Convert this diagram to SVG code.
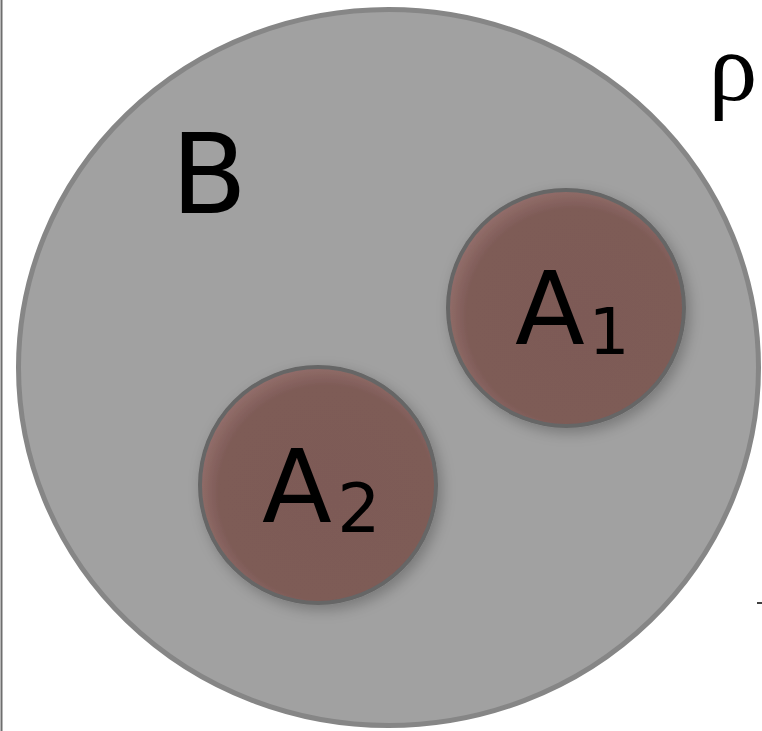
<svg xmlns="http://www.w3.org/2000/svg" width="762" height="731" viewBox="0 0 762 731">
  <style>
    .lbl { font-family: "Comic Sans MS", "DejaVu Sans", sans-serif; fill: #000; }
    .inner { stroke: #666666; stroke-width: 4; fill: url(#innerFill); filter: url(#shadow); }
  </style>
  <defs>
    <radialGradient id="innerFill" cx="0.53" cy="0.53" r="0.53" fx="0.56" fy="0.56">
      <stop offset="0" stop-color="#7d5a56"/>
      <stop offset="0.86" stop-color="#7e5b57"/>
      <stop offset="1" stop-color="#916d69"/>
    </radialGradient>
    <filter id="shadow" x="-20%" y="-20%" width="150%" height="150%">
      <feGaussianBlur in="SourceAlpha" stdDeviation="7"/>
      <feOffset dx="4" dy="5" result="b"/>
      <feFlood flood-color="#000" flood-opacity="0.25"/>
      <feComposite in2="b" operator="in"/>
      <feMerge>
        <feMergeNode/>
        <feMergeNode in="SourceGraphic"/>
      </feMerge>
    </filter>
  </defs>
  <rect width="762" height="731" fill="#ffffff"/>
  <line x1="1.5" y1="0" x2="1.5" y2="731" stroke="#6e6e6e" stroke-width="2"/>
  <g id="B">
    <ellipse cx="388.5" cy="367.5" rx="370" ry="358" fill="#a1a1a1" stroke="#868686" stroke-width="5"/>
    <text class="lbl" x="209" y="213" font-size="111" text-anchor="middle">B</text>
  </g>
  <g id="A1">
    <circle class="inner" cx="566" cy="308" r="118"/>
    <text class="lbl" x="550" y="344" font-size="102" text-anchor="middle">A</text>
    <text class="lbl" x="609" y="354" font-size="64" text-anchor="middle">1</text>
  </g>
  <g id="A2">
    <circle class="inner" cx="318" cy="485" r="118"/>
    <text class="lbl" x="297" y="522" font-size="102" text-anchor="middle">A</text>
    <text class="lbl" x="359" y="532" font-size="68" text-anchor="middle">2</text>
  </g>
  <g id="rho">
    <text x="733" y="100" font-family="'Liberation Serif', 'DejaVu Serif', serif" font-size="98" text-anchor="middle" fill="#000">ρ</text>
  </g>
  <line x1="757" y1="603" x2="762" y2="603" stroke="#000" stroke-width="1.5"/>
  <g id="connectors"/>
</svg>
